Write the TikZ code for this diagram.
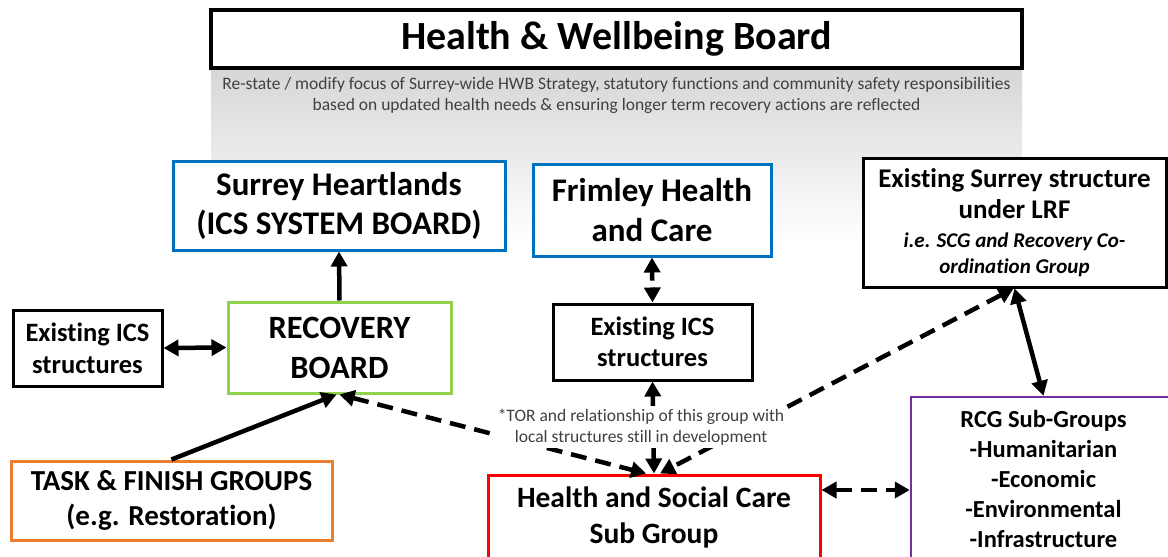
\documentclass[tikz,border=0pt]{standalone}
\usepackage{fontspec}
\setmainfont{Carlito}[Ligatures=NoCommon]
\usepackage{tikz}
\usetikzlibrary{arrows.meta, positioning, calc}
\definecolor{cBlue}{RGB}{0,112,192}
\definecolor{cGreen}{RGB}{146,208,80}
\definecolor{cOrange}{RGB}{237,125,49}
\definecolor{cRed}{RGB}{255,0,0}
\definecolor{cPurple}{RGB}{112,48,160}
\definecolor{cNote}{RGB}{64,64,64}
\newcommand{\fsz}[2]{\fontsize{#1}{#2}\selectfont}
\newcommand{\lrfsub}{\fsz{21}{29}\bfseries\itshape}
\tikzset{
	board/.style   ={rectangle, draw=black, line width=3pt, fill=white, align=center, inner sep=0pt},
	noteText/.style={align=center, text=cNote, inner sep=0pt},
	link/.style    ={-{Triangle[length=15pt, width=16pt]}, line width=4.5pt},
	biLink/.style  ={{Triangle[length=15pt, width=16pt]}-{Triangle[length=15pt, width=16pt]}, line width=4.5pt},
	dashLink/.style={biLink, dash pattern=on 16pt off 9pt},
}

\begin{document}
\begin{tikzpicture}[x=1pt, y=-1pt]
	\useasboundingbox (0,0) rectangle (1168,557);
	\clip (0,0) rectangle (1168,557);
	% grey band under the board
	\shade[top color=black!16, bottom color=white] (211,68) rectangle (1022,240);

	\node[board, line width=3.5pt, minimum width=811pt, minimum height=58pt, font=\fsz{40}{48}\bfseries] (hwb) at (616.5,39) {Health \& Wellbeing Board};
	\node[noteText, font=\fsz{17.5}{21}] (focus) at (616.5,95.5) {Re-state / modify focus of Surrey-wide HWB Strategy, statutory functions and community safety responsibilities\\ based on updated health needs \& ensuring longer term recovery actions are reflected};

	\node[board, draw=cBlue, minimum width=332pt, minimum height=89pt, font=\fsz{33}{39}\bfseries] (heart) at (339,205.5) {Surrey Heartlands\\ (ICS SYSTEM BOARD)};
	\node[board, draw=cBlue, minimum width=238pt, minimum height=92pt, font=\fsz{33}{40}\bfseries] (frim) at (652,210) {Frimley Health\\ and Care};
	\node[board, minimum width=303pt, minimum height=129pt, font=\fsz{27}{29}\bfseries] (lrf) at (1014.5,222.5) {Existing Surrey structure\\[2pt] under LRF\\ \lrfsub i.e. SCG and Recovery Co-\\[-3pt] \lrfsub ordination Group};

	\node[board, minimum width=149pt, minimum height=76pt, font=\fsz{26.5}{32}\bfseries] (icsL) at (87.5,348) {Existing ICS\\ structures};
	\node[board, draw=cGreen, minimum width=223pt, minimum height=91pt, font=\fsz{32.5}{40}\bfseries] (rec) at (339.5,347.5) {RECOVERY\\ BOARD};
	\node[board, minimum width=199pt, minimum height=76pt, font=\fsz{26.5}{31}\bfseries] (icsM) at (652.5,342) {Existing ICS\\ structures};

	\node[board, draw=cOrange, minimum width=321pt, minimum height=79pt, font=\fsz{29}{35}\bfseries] (task) at (171.5,500.5) {TASK \& FINISH GROUPS\\ (e.g. Restoration)};
	\node[board, draw=cRed, minimum width=332pt, minimum height=84pt, font=\fsz{29.5}{36}\bfseries] (hsc) at (654,517) {Health and Social Care\\ Sub Group};
	\node[board, draw=cPurple, line width=2.5pt, minimum width=265pt, minimum height=163pt, font=\fsz{24.5}{30}\bfseries] (rcg) at (1043.5,478.5) {RCG Sub-Groups\\ -Humanitarian\\ -Economic\\ -Environmental\\ -Infrastructure};

	% links
	\draw[link] (rec.north) -- (heart.south);
	\draw[dashLink, dash pattern=on 9pt off 7pt] (frim.south) -- (icsM.north);
	\draw[biLink] (icsL.east) -- (rec.west);
	\draw[link] (task.north) -- ([xshift=-3pt]rec.south);
	\draw[dashLink] (rec.south) -- ([xshift=-8pt]hsc.north);
	\draw[dashLink] (icsM.south) -- (hsc.north);
	\draw[dashLink] ([xshift=-1pt]lrf.south) -- ([xshift=6pt]hsc.north);
	\draw[biLink] (lrf.south) -- (rcg.north);
	\draw[dashLink] (hsc.east |- 0,490) -- (rcg.west |- 0,490);

	\node[noteText, fill=white, inner sep=3pt, font=\fsz{17.5}{21}] (tor) at (641,427) {*TOR and relationship of this group with\\ local structures still in development};
\end{tikzpicture}
\end{document}
